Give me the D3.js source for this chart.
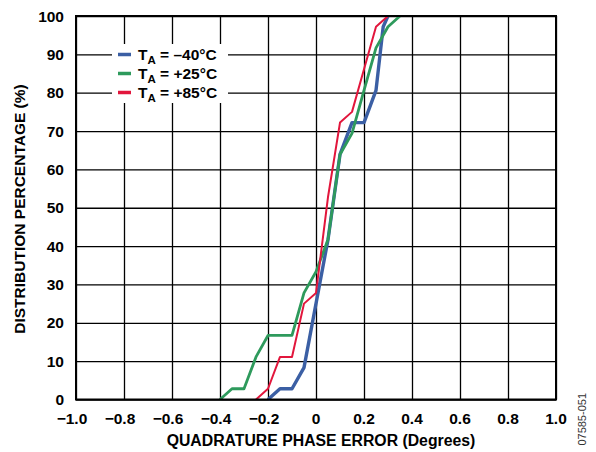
<!DOCTYPE html>
<html>
<head>
<meta charset="utf-8">
<script src="https://cdn.jsdelivr.net/npm/d3@7"></script>
<style>
  body { margin: 0; background: #fff; }
  text { font-family: "Liberation Sans", Arial, sans-serif; font-weight: bold; fill: #000; }
</style>
</head>
<body>
<div class="container"></div>
<script>
var xTicks = [-1.0, -0.8, -0.6, -0.4, -0.2, 0, 0.2, 0.4, 0.6, 0.8, 1.0];
var yTicks = [0, 10, 20, 30, 40, 50, 60, 70, 80, 90, 100];

var coldX = [-0.2, -0.15, -0.1, -0.05, 0.05, 0.1, 0.15, 0.2, 0.25, 0.28, 0.3];
var coldY = [0, 2.8, 2.8, 8.3, 41.7, 63.9, 72.2, 72.2, 80.6, 97.2, 100];

var roomX = [-0.4, -0.35, -0.3, -0.25, -0.2, -0.1, -0.05, 0, 0.05, 0.1, 0.15, 0.2, 0.25, 0.3, 0.35];
var roomY = [0, 2.8, 2.8, 11.1, 16.7, 16.7, 27.8, 33.3, 41.7, 63.9, 69.4, 80.6, 91.7, 97.2, 100];

var hotX = [-0.25, -0.2, -0.15, -0.1, -0.05, 0, 0.05, 0.1, 0.15, 0.2, 0.25, 0.3];
var hotY = [0, 2.8, 11.1, 11.1, 25, 27.8, 52.8, 72.2, 75, 86.1, 97.2, 100];

var seriesNames = ["\u201340\u00b0C", "+25\u00b0C", "+85\u00b0C"];
var seriesColors = ["#3b5fa4", "#2e9a5c", "#e2163c"];

const WIDTH = 596;
const HEIGHT = 452;
const LEFT = 76, RIGHT = 556, TOP = 16, BOTTOM = 399.5;

var xScale = d3.scaleLinear().domain([-1, 1]).range([LEFT, RIGHT]);
var yScale = d3.scaleLinear().domain([0, 100]).range([BOTTOM, TOP]);

var fmt = function (v) {
  if (v === 0) return "0";
  return d3.format(".1f")(v).replace("-", "\u2013");
};

var svg = d3.select('.container').append('svg')
  .attr('width', WIDTH)
  .attr('height', HEIGHT);

// grid
var xAxis = d3.axisBottom(xScale).tickValues(xTicks)
  .tickSize(-(BOTTOM - TOP)).tickFormat("");
var yAxis = d3.axisLeft(yScale).tickValues(yTicks)
  .tickSize(-(RIGHT - LEFT)).tickFormat("");

var gx = svg.append('g')
  .attr('transform', 'translate(0,' + BOTTOM + ')')
  .call(xAxis);
var gy = svg.append('g')
  .attr('transform', 'translate(' + LEFT + ',0)')
  .call(yAxis);
[gx, gy].forEach(function (g) {
  g.select('.domain').remove();
  g.selectAll('line').attr('stroke', '#000').attr('stroke-width', 1.3);
});

// tick labels
svg.selectAll('.xlab')
  .data(xTicks)
  .enter().append('text')
  .attr('class', 'xlab')
  .attr('x', function (d) { return xScale(d) + (d < 0 ? -4 : 0); })
  .attr('y', 423.5)
  .attr('text-anchor', 'middle')
  .style('font-size', '15.5px')
  .text(fmt);

svg.selectAll('.ylab')
  .data(yTicks)
  .enter().append('text')
  .attr('class', 'ylab')
  .attr('x', 64)
  .attr('y', function (d) { return yScale(d) + 5.5; })
  .attr('text-anchor', 'end')
  .style('font-size', '15.5px')
  .text(function (d) { return d; });

// axis titles
svg.append('text')
  .attr('x', 321)
  .attr('y', 446)
  .attr('text-anchor', 'middle')
  .style('font-size', '15.8px')
  .text('QUADRATURE PHASE ERROR (Degrees)');

svg.append('text')
  .attr('transform', 'translate(25,209) rotate(-90)')
  .attr('text-anchor', 'middle')
  .style('font-size', '15.5px')
  .text('DISTRIBUTION PERCENTAGE (%)');

svg.append('text')
  .attr('transform', 'translate(586,393) rotate(-90)')
  .attr('text-anchor', 'end')
  .style('font-size', '11px')
  .style('font-weight', 'normal')
  .style('fill', '#333')
  .text('07585-051');

// curves
var line = d3.line()
  .x(function (d) { return xScale(d[0]); })
  .y(function (d) { return yScale(d[1]); });

var series = [
  { xs: coldX, ys: coldY, w: 3.4 },
  { xs: roomX, ys: roomY, w: 2.8 },
  { xs: hotX, ys: hotY, w: 2 }
];

series.forEach(function (s, i) {
  var pts = s.xs.map(function (x, j) { return [x, s.ys[j]]; });
  svg.append('path')
    .datum(pts)
    .attr('d', line)
    .attr('fill', 'none')
    .attr('stroke', seriesColors[i])
    .attr('stroke-width', s.w)
    .attr('stroke-linejoin', 'round');
});

// frame
svg.append('rect')
  .attr('x', LEFT).attr('y', TOP)
  .attr('width', RIGHT - LEFT).attr('height', BOTTOM - TOP)
  .attr('fill', 'none')
  .attr('stroke', '#000')
  .attr('stroke-width', 2);

// legend
var legend = svg.append('g');
legend.append('rect')
  .attr('x', 112).attr('y', 44)
  .attr('width', 116).attr('height', 59)
  .attr('fill', '#fff');

seriesNames.forEach(function (name, i) {
  var y = 54.5 + i * 19;
  legend.append('line')
    .attr('x1', 118).attr('x2', 131)
    .attr('y1', y).attr('y2', y)
    .attr('stroke', seriesColors[i])
    .attr('stroke-width', 3.5);
  var t = legend.append('text')
    .attr('x', 138)
    .attr('y', y + 5)
    .style('font-size', '15.5px');
  t.append('tspan').text('T');
  t.append('tspan').attr('dy', 4).style('font-size', '11.5px').text('A');
  t.append('tspan').attr('dy', -4).text(' = ' + name);
});
</script>
</body>
</html>
